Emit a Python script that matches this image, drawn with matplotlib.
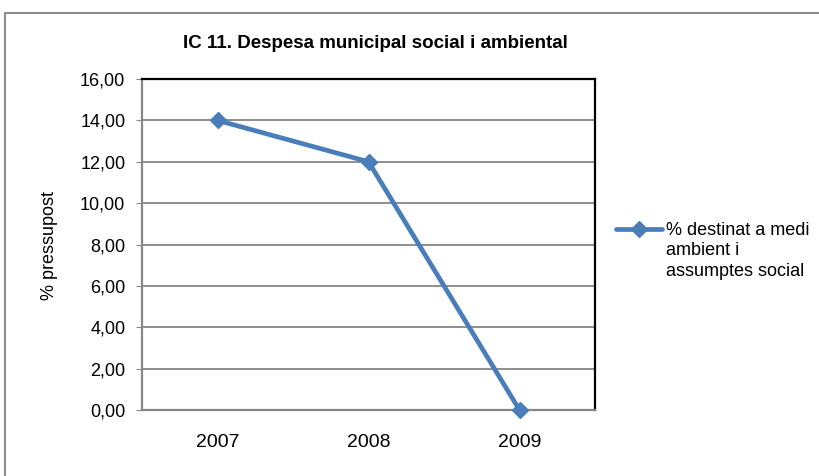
import matplotlib
matplotlib.use('Agg')
import matplotlib.pyplot as plt
from matplotlib.patches import Rectangle
from matplotlib.lines import Line2D
from matplotlib.ticker import FuncFormatter

plt.rcParams['font.family'] = ['Liberation Sans', 'DejaVu Sans']

years = ['2007', '2008', '2009']
values = [14.0, 12.0, 0.0]
series_name = '% destinat a medi\nambient i\nassumptes social'
title = 'IC 11. Despesa municipal social i ambiental'
blue = '#4a7ebb'

fig = plt.figure(figsize=(8.19, 4.76), dpi=100)
# outer chart frame, cut off at the right and bottom
fig.patches.append(Rectangle((5 / 819, -0.2), 1.2, 1.2 - 13 / 476,
                             transform=fig.transFigure, fill=False,
                             edgecolor='#8c8c8c', linewidth=1.5))

ax = fig.add_axes([142 / 819, 66 / 476, 453 / 819, 331 / 476])
x = range(len(years))
ax.plot(x, values, color=blue, linewidth=3.4, marker='D',
        markersize=8, clip_on=False, zorder=5)

ax.set_xlim(-0.5, 2.5)
ax.set_ylim(0, 16)
ax.set_yticks(range(0, 17, 2))
ax.yaxis.set_major_formatter(FuncFormatter(lambda v, p: '{:.2f}'.format(v).replace('.', ',')))
ax.set_xticks(list(x))
ax.set_xticklabels(years)
ax.grid(axis='y', color='#868686', linewidth=1.3)
ax.set_axisbelow(True)
ax.tick_params(axis='y', direction='out', length=4, color='#868686', labelsize=13, pad=8)
ax.tick_params(axis='x', length=0, labelsize=14, pad=17)

for side in ['left', 'bottom']:
    ax.spines[side].set_color('#868686')
    ax.spines[side].set_linewidth(1.6)
for side in ['top', 'right']:
    ax.spines[side].set_color('black')
    ax.spines[side].set_linewidth(1.6)

fig.text(49 / 819, 1 - 245 / 476, '% pressupost', rotation=90,
         ha='center', va='center', fontsize=13)
fig.text(375 / 819, 1 - 44 / 476, title, ha='center', va='center',
         fontsize=13.5, fontweight='bold')

# legend entry
ly = 1 - 229 / 476
fig.lines.append(Line2D([616 / 819, 662 / 819], [ly, ly], transform=fig.transFigure,
                        color=blue, linewidth=3.4, solid_capstyle='round'))
fig.lines.append(Line2D([639 / 819], [ly], transform=fig.transFigure,
                        color=blue, marker='D', markersize=8))
fig.text(666 / 819, 1 - 222 / 476, series_name, ha='left', va='top',
         fontsize=13, linespacing=1.25)

fig.savefig('out.png', dpi=100)
